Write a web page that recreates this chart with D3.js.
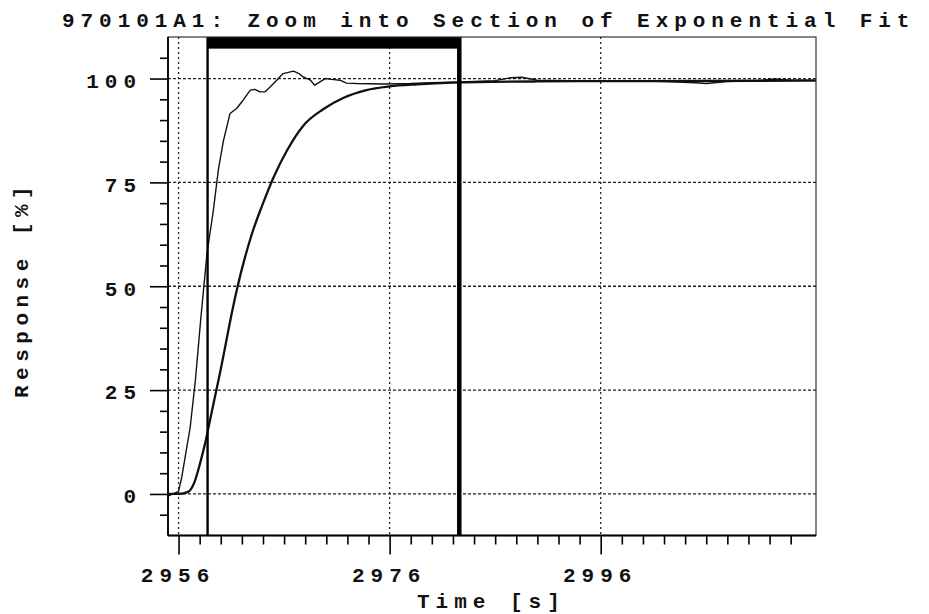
<!DOCTYPE html>
<html>
<head>
<meta charset="utf-8">
<script src="https://cdn.jsdelivr.net/npm/d3@7"></script>
<style>
  body { margin: 0; background: #fff; }
  svg text { font-family: "Liberation Mono", "Courier New", monospace; font-weight: bold; fill: #111; }
</style>
</head>
<body>
<div id="chart"></div>
<script>
// values
var chartTitle = "970101A1: Zoom into Section of Exponential Fit";
var xLabel = "Time [s]";
var yLabel = "Response [%]";

var xMajorTicks = [2956, 2976, 2996];
var yMajorTicks = [0, 25, 50, 75, 100];

// measured response (thin, noisy)
var dataTime = [2955.0, 2956.0, 2956.3, 2957.1, 2957.6, 2958.1, 2958.7, 2959.3, 2959.77, 2960.25,
    2960.88, 2961.5, 2962.0, 2962.8, 2963.25, 2963.7, 2964.2, 2964.7, 2965.3, 2965.9,
    2966.9, 2967.4, 2967.8, 2968.5, 2968.9, 2969.4, 2969.9, 2970.5, 2971.3, 2971.9,
    2972.9, 2975.4, 2978, 2980, 2982, 2984, 2986, 2987.5, 2988.5, 2990,
    2993, 2996, 2999, 3002, 3005, 3006, 3008, 3011, 3012.5, 3014, 3016.4];
var dataResp = [-0.5, 0.6, 4, 16, 27.5, 42, 58, 68.3, 78, 85,
    91.6, 92.8, 94.4, 97.2, 97.4, 96.8, 96.8, 98, 99.6, 101.2,
    101.8, 101.2, 100.4, 99.6, 98.4, 99.2, 100, 99.8, 99.6, 98.9,
    98.8, 98.7, 98.8, 99.0, 99.1, 99.3, 99.5, 100.2, 100.3, 99.6,
    99.5, 99.5, 99.5, 99.3, 99.0, 98.8, 99.3, 99.5, 99.9, 99.6, 99.6];

// exponential fit (thicker, smooth)
var fitTime = [2955, 2956, 2956.9, 2957.5, 2958.0, 2958.5, 2959.0, 2959.5, 2960.0, 2960.5,
    2961.0, 2961.6, 2962.3, 2963.0, 2963.9, 2965.0, 2966.3, 2967.8, 2969.7, 2971.6,
    2973.8, 2976.0, 2978.6, 2982, 2990, 3000, 3016.4];
var fitResp = [0, 0, 0.5, 2.8, 7, 12, 18, 24, 30, 36.5,
    43, 50, 57, 63, 69.3, 76.2, 82.8, 88.6, 92.6, 95.3,
    97.2, 98.1, 98.6, 99.0, 99.3, 99.4, 99.5];

// zoomed section marker
var sectionStart = 2958.75, sectionEnd = 2982.6;

function drawChart(selector){

    var width = 929, height = 614;
    var pLeft = 168, pRight = 816, pTop = 37, pBottom = 535.5;

    var svg = d3.select(selector).append("svg")
        .attr("width", width)
        .attr("height", height);

    var x = d3.scaleLinear().domain([2955, 3016.4]).range([pLeft, pRight]);
    var y = d3.scaleLinear().domain([-10, 110]).range([pBottom, pTop]);

    var xMinor = d3.range(2958, 3015, 2).filter(function(d){ return xMajorTicks.indexOf(d) < 0; });
    var yMinor = d3.range(-5, 110, 5).filter(function(d){ return yMajorTicks.indexOf(d) < 0; });

    // grid
    svg.append("g").selectAll("line")
        .data(yMajorTicks)
      .enter().append("line")
        .attr("x1", pLeft).attr("x2", pRight)
        .attr("y1", function(d){ return y(d); })
        .attr("y2", function(d){ return y(d); })
        .attr("stroke", "#222")
        .attr("stroke-width", 1.3)
        .attr("stroke-dasharray", "3,2");

    svg.append("g").selectAll("line")
        .data(xMajorTicks)
      .enter().append("line")
        .attr("y1", pTop).attr("y2", pBottom)
        .attr("x1", function(d){ return x(d); })
        .attr("x2", function(d){ return x(d); })
        .attr("stroke", "#222")
        .attr("stroke-width", 1.3)
        .attr("stroke-dasharray", "2,3");

    // curves
    svg.append("clipPath").attr("id", "plotclip")
      .append("rect")
        .attr("x", pLeft).attr("y", pTop)
        .attr("width", pRight - pLeft).attr("height", pBottom - pTop);

    var dataPts = dataTime.map(function(t, i){ return [t, dataResp[i]]; });
    var fitPts = fitTime.map(function(t, i){ return [t, fitResp[i]]; });

    var line = d3.line()
        .x(function(d){ return x(d[0]); })
        .y(function(d){ return y(d[1]); });

    svg.append("path")
        .datum(fitPts)
        .attr("clip-path", "url(#plotclip)")
        .attr("fill", "none")
        .attr("stroke", "#111")
        .attr("stroke-width", 2.3)
        .attr("stroke-linejoin", "round")
        .attr("d", line.curve(d3.curveMonotoneX));

    svg.append("path")
        .datum(dataPts)
        .attr("clip-path", "url(#plotclip)")
        .attr("fill", "none")
        .attr("stroke", "#111")
        .attr("stroke-width", 1.4)
        .attr("stroke-linejoin", "round")
        .attr("d", line.curve(d3.curveLinear));

    // section box
    svg.append("rect")
        .attr("x", x(sectionStart))
        .attr("y", pTop)
        .attr("width", x(sectionEnd) - x(sectionStart))
        .attr("height", y(107.2) - pTop)
        .attr("fill", "#000");

    svg.append("line")
        .attr("x1", x(sectionStart)).attr("x2", x(sectionStart))
        .attr("y1", pTop).attr("y2", pBottom)
        .attr("stroke", "#000").attr("stroke-width", 2.4);

    svg.append("line")
        .attr("x1", x(sectionEnd)).attr("x2", x(sectionEnd))
        .attr("y1", pTop).attr("y2", pBottom)
        .attr("stroke", "#000").attr("stroke-width", 4.5);

    // frame
    svg.append("rect")
        .attr("x", pLeft).attr("y", pTop)
        .attr("width", pRight - pLeft).attr("height", pBottom - pTop)
        .attr("fill", "none")
        .attr("stroke", "#333")
        .attr("stroke-width", 1.2);
    svg.append("line")
        .attr("x1", pLeft).attr("x2", pLeft).attr("y1", pTop).attr("y2", pBottom)
        .attr("stroke", "#000").attr("stroke-width", 1.8);
    svg.append("line")
        .attr("x1", pLeft).attr("x2", pRight).attr("y1", pBottom).attr("y2", pBottom)
        .attr("stroke", "#000").attr("stroke-width", 1.8);

    // axes
    var xMinorAxis = svg.append("g")
        .attr("transform", "translate(0," + pBottom + ")")
        .call(d3.axisBottom(x).tickValues(xMinor).tickSize(9).tickFormat(""));
    var xMajorAxis = svg.append("g")
        .attr("transform", "translate(0," + pBottom + ")")
        .call(d3.axisBottom(x).tickValues(xMajorTicks).tickSize(19).tickPadding(13).tickFormat(d3.format("d")));
    var yMinorAxis = svg.append("g")
        .attr("transform", "translate(" + pLeft + ",0)")
        .call(d3.axisLeft(y).tickValues(yMinor).tickSize(8).tickFormat(""));
    var yMajorAxis = svg.append("g")
        .attr("transform", "translate(" + pLeft + ",0)")
        .call(d3.axisLeft(y).tickValues(yMajorTicks).tickSize(18).tickPadding(8).tickFormat(d3.format("d")));

    [xMinorAxis, xMajorAxis, yMinorAxis, yMajorAxis].forEach(function(a){
        a.select(".domain").remove();
        a.selectAll("line").attr("stroke", "#000").attr("stroke-width", 1.6);
    });

    xMajorAxis.selectAll("text")
        .attr("font-size", 21)
        .attr("font-family", null)
        .attr("letter-spacing", 6)
        .attr("dx", -1)
        .attr("fill", "#111");

    yMajorAxis.selectAll("text")
        .attr("font-size", 21)
        .attr("font-family", null)
        .attr("letter-spacing", 6)
        .attr("dy", "0.42em")
        .attr("fill", "#111");

    // titles
    svg.append("text")
        .attr("x", 62)
        .attr("y", 27)
        .attr("font-size", 21)
        .attr("letter-spacing", 5.95)
        .text(chartTitle);

    svg.append("text")
        .attr("x", 417)
        .attr("y", 608)
        .attr("font-size", 21)
        .attr("letter-spacing", 6)
        .text(xLabel);

    svg.append("text")
        .attr("transform", "translate(28,398) rotate(-90)")
        .attr("font-size", 21)
        .attr("letter-spacing", 5.5)
        .text(yLabel);
}

drawChart("#chart");
</script>
</body>
</html>
